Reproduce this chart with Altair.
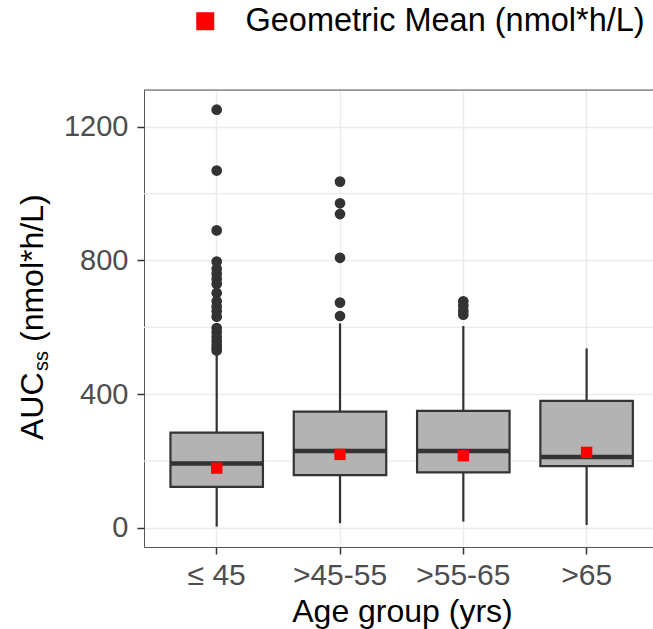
import altair as alt
import pandas as pd

# ---- data ----
categories = ["≤ 45", ">45-55", ">55-65", ">65"]
q1 = [123, 158, 166, 185]
median = [193, 230, 230, 212]
q3 = [285, 348, 350, 380]
whisker_low = [4, 14, 19, 9]
whisker_high = [523, 612, 604, 537]
geo_mean = [179, 220, 216, 226]

outliers_le45 = [1251, 1069, 890, 797, 775, 760, 745, 730, 703, 678, 662,
                 648, 632, 598, 585, 572, 560, 548, 538, 531]
outliers_45_55 = [1036, 971, 939, 808, 674, 634]
outliers_55_65 = [678, 665, 650, 638]
outliers_gt65 = []

y_ticks = [0, 400, 800, 1200]
y_minor = [200, 600, 1000]
y_domain = [-57, 1310]
legend_label = "Geometric Mean (nmol*h/L)"

# ---- tables ----
stats = pd.DataFrame({
    "cat": categories, "q1": q1, "median": median, "q3": q3,
    "lo": whisker_low, "hi": whisker_high, "gm": geo_mean,
})
out_rows = []
for c, vals in zip(categories, [outliers_le45, outliers_45_55, outliers_55_65, outliers_gt65]):
    for v in vals:
        out_rows.append({"cat": c, "value": v})
outliers = pd.DataFrame(out_rows, columns=["cat", "value"])
minor = pd.DataFrame({"v": y_minor})
one = pd.DataFrame({"k": [0]})

FONT = "Liberation Sans"
GRID = "#EBEBEB"
DARK = "#333333"

x_scale = alt.Scale(domain=categories, paddingInner=0, paddingOuter=0.064,
                    align=0.70, round=False)
x_axis = alt.Axis(title="Age group (yrs)", grid=True, bandPosition=0.5,
                  gridColor=GRID, gridWidth=1.5, labelAngle=0,
                  labelFontSize=30, labelColor="#4D4D4D", labelFont=FONT,
                  labelPadding=6, tickSize=7, tickWidth=1.5, tickColor=DARK,
                  domainColor="#555555", domainWidth=1,
                  titleFontSize=32, titleColor="black", titleFont=FONT,
                  titleFontWeight="normal", titleBaseline="alphabetic",
                  titleY=74, titleX=258)
y_scale = alt.Scale(domain=y_domain, nice=False, zero=False)
y_axis = alt.Axis(values=y_ticks, format="d", grid=True, gridColor=GRID,
                  gridWidth=1.5, labelFontSize=29, labelColor="#4D4D4D",
                  labelFont=FONT, labelPadding=9, tickSize=7, tickWidth=1.5,
                  tickColor=DARK, domainColor="#555555", domainWidth=1,
                  title=None)

X = alt.X("cat:N", scale=x_scale, axis=x_axis, sort=categories)

grid_minor = alt.Chart(minor).mark_rule(color=GRID, strokeWidth=1.2).encode(
    y=alt.Y("v:Q", scale=y_scale, axis=y_axis)
)

whiskers = alt.Chart(stats).mark_rule(color=DARK, strokeWidth=2.2).encode(
    x=X,
    y=alt.Y("lo:Q", scale=y_scale, axis=y_axis),
    y2="hi:Q",
)

boxes = alt.Chart(stats).mark_bar(
    width={"band": 0.75}, color="#B3B3B3", stroke=DARK, strokeWidth=2.2
).encode(
    x=X,
    y=alt.Y("q1:Q", scale=y_scale, axis=y_axis),
    y2="q3:Q",
)

medians = alt.Chart(stats).mark_tick(
    color=DARK, size=92, thickness=4.5, opacity=1
).encode(
    x=X,
    y=alt.Y("median:Q", scale=y_scale, axis=y_axis),
)

outlier_pts = alt.Chart(outliers).mark_circle(
    color=DARK, size=115, opacity=1
).encode(
    x=X,
    y=alt.Y("value:Q", scale=y_scale, axis=y_axis),
)

gm_pts = alt.Chart(stats).transform_calculate(
    series=f"'{legend_label}'"
).mark_square(size=130, opacity=1, filled=True).encode(
    x=X,
    y=alt.Y("gm:Q", scale=y_scale, axis=y_axis),
    color=alt.Color(
        "series:N",
        scale=alt.Scale(domain=[legend_label], range=["#FF0000"]),
        legend=alt.Legend(
            title=None, orient="none", legendX=45, legendY=-85,
            symbolType="square", symbolSize=324, symbolStrokeWidth=0,
            symbolOpacity=1, labelFontSize=32.5, labelColor="black",
            labelFont=FONT, labelOffset=24, labelLimit=700, padding=0,
        ),
    ),
)

top_border = alt.Chart(one).mark_rule(color="#555555", strokeWidth=1).encode(
    x=alt.value(0), x2=alt.value(509), y=alt.value(0)
)

t_auc = alt.Chart(one).mark_text(
    font=FONT, fontSize=32, angle=270, align="left", baseline="alphabetic",
    color="black"
).encode(x=alt.value(-101), y=alt.value(350), text=alt.value("AUC"))

t_ss = alt.Chart(one).mark_text(
    font=FONT, fontSize=20, angle=270, align="left", baseline="alphabetic",
    color="black"
).encode(x=alt.value(-96), y=alt.value(281), text=alt.value("ss"))

t_unit = alt.Chart(one).mark_text(
    font=FONT, fontSize=32, angle=270, align="left", baseline="alphabetic",
    color="black"
).encode(x=alt.value(-101), y=alt.value(252), text=alt.value("(nmol*h/L)"))

chart = alt.layer(
    grid_minor, whiskers, boxes, medians, outlier_pts, gm_pts,
    top_border, t_auc, t_ss, t_unit
).properties(
    width=509, height=457,
    autosize=alt.AutoSizeParams(type="none"),
    padding={"left": 144, "top": 90, "right": 0, "bottom": 82},
    background="white",
).configure_view(stroke=None).configure(font=FONT)

chart.save("out.html", embed_options={"renderer": "svg", "actions": False})
